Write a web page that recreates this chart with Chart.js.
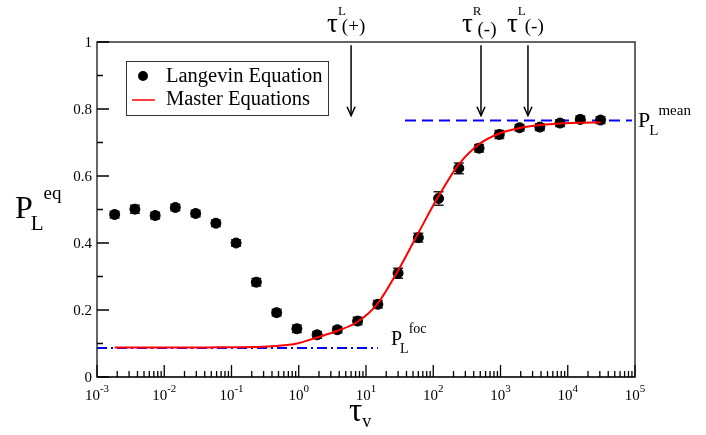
<!DOCTYPE html>
<html>
<head>
<meta charset="utf-8">
<script src="https://cdn.jsdelivr.net/npm/chart.js@4"></script>
<style>
  body { margin: 0; background: #fff; }
  #wrap { width: 706px; height: 435px; }
</style>
</head>
<body>
<div id="wrap"><canvas id="chart" width="706" height="435"></canvas></div>
<script>
// tau_v values (log scale)
const tau = [0.00183, 0.00366, 0.00732, 0.0146, 0.0293, 0.0586, 0.117, 0.234, 0.469, 0.938,
  1.875, 3.75, 7.5, 15, 30, 60, 120, 240, 480, 960, 1920, 3840, 7680, 15360, 30720];
// Langevin equation results and their error bars
const langevin = [0.485, 0.501, 0.482, 0.506, 0.488, 0.459, 0.400, 0.283, 0.192, 0.144,
  0.126, 0.141, 0.167, 0.217, 0.310, 0.416, 0.533, 0.623, 0.683, 0.724,
  0.744, 0.746, 0.758, 0.769, 0.767];
const langevinErr = [0.010, 0.012, 0.010, 0.010, 0.010, 0.010, 0.010, 0.011, 0.010, 0.011,
  0.010, 0.010, 0.011, 0.011, 0.015, 0.013, 0.020, 0.016, 0.011, 0.012,
  0.010, 0.010, 0.010, 0.010, 0.010];
// master equations curve
const master = [0.088, 0.088, 0.088, 0.088, 0.088, 0.0885, 0.089, 0.0895, 0.0925, 0.100,
  0.118, 0.138, 0.165, 0.220, 0.318, 0.430, 0.540, 0.635, 0.695, 0.727,
  0.743, 0.752, 0.757, 0.759, 0.760];
// reference levels
const meanX = [38, 90000];
const meanY = 0.766;
const focX = [0.001, 15];
const focY = 0.0865;
// arrows marking the times
const arrowX = [6, 513, 2560];
const yTicks = [0, 0.2, 0.4, 0.6, 0.8, 1];
const yTickLabels = ['0', '0.2', '0.4', '0.6', '0.8', '1'];
const xDecades = [-3, -2, -1, 0, 1, 2, 3, 4, 5];

const FONT = '"Liberation Serif", "Times New Roman", serif';

function pts(xs, ys) {
  return xs.map((x, i) => ({ x: x, y: ys[i] }));
}

function drawParts(ctx, x, y, parts) {
  parts.forEach(p => {
    ctx.font = p.size + 'px ' + FONT;
    ctx.fillText(p.text, x + (p.dx || 0), y + (p.dy || 0));
    x += ctx.measureText(p.text).width + (p.dx || 0);
  });
  return x;
}

function partsWidth(ctx, parts) {
  let w = 0;
  parts.forEach(p => {
    ctx.font = p.size + 'px ' + FONT;
    w += ctx.measureText(p.text).width + (p.dx || 0);
  });
  return w;
}

const decorations = {
  id: 'decorations',
  beforeDatasetsDraw(chart) {
    const ctx = chart.ctx, xs = chart.scales.x, ys = chart.scales.y;
    ctx.save();
    ctx.strokeStyle = '#222';
    ctx.lineWidth = 1.5;
    tau.forEach((t, i) => {
      const px = xs.getPixelForValue(t);
      const top = ys.getPixelForValue(langevin[i] + langevinErr[i]);
      const bot = ys.getPixelForValue(langevin[i] - langevinErr[i]);
      ctx.beginPath();
      ctx.moveTo(px, top); ctx.lineTo(px, bot);
      ctx.moveTo(px - 5, top); ctx.lineTo(px + 5, top);
      ctx.moveTo(px - 5, bot); ctx.lineTo(px + 5, bot);
      ctx.stroke();
    });
    ctx.restore();
  },
  afterDraw(chart) {
    const ctx = chart.ctx, xs = chart.scales.x, ys = chart.scales.y;
    const a = chart.chartArea;
    ctx.save();
    ctx.fillStyle = '#000';
    ctx.strokeStyle = '#333';

    // frame
    ctx.lineWidth = 1.5;
    ctx.strokeRect(a.left, a.top, a.right - a.left, a.bottom - a.top);
    ctx.lineWidth = 2;
    ctx.beginPath(); ctx.moveTo(a.left, a.bottom); ctx.lineTo(a.right, a.bottom); ctx.stroke();

    // ticks
    ctx.lineWidth = 1.3;
    ctx.strokeStyle = '#000';
    ctx.beginPath();
    for (let v = 0; v <= 10; v++) {
      const py = ys.getPixelForValue(v / 10);
      ctx.moveTo(a.left, py);
      ctx.lineTo(a.left + (v % 2 === 0 ? 12 : 6), py);
    }
    xDecades.forEach(d => {
      const base = Math.pow(10, d);
      const px = xs.getPixelForValue(base);
      ctx.moveTo(px, a.bottom); ctx.lineTo(px, a.bottom - 12);
      if (d < 5) {
        for (let m = 2; m <= 9; m++) {
          const pm = xs.getPixelForValue(base * m);
          ctx.moveTo(pm, a.bottom); ctx.lineTo(pm, a.bottom - 6);
        }
      }
    });
    ctx.stroke();

    // y tick labels
    ctx.font = '15px ' + FONT;
    ctx.textAlign = 'right';
    ctx.textBaseline = 'middle';
    yTicks.forEach((v, i) => {
      ctx.fillText(yTickLabels[i], a.left - 5, ys.getPixelForValue(v) + 1);
    });

    // x tick labels 10^n
    ctx.textAlign = 'left';
    ctx.textBaseline = 'alphabetic';
    xDecades.forEach(d => {
      const parts = [{ text: '10', size: 15 }, { text: String(d), size: 11, dy: -8 }];
      const w = partsWidth(ctx, parts);
      drawParts(ctx, xs.getPixelForValue(Math.pow(10, d)) - w / 2, 400, parts);
    });

    // axis titles
    drawParts(ctx, 15, 218, [{ text: 'P', size: 32 }, { text: 'L', size: 21, dy: 12, dx: -2 }, { text: 'eq', size: 19, dy: -19 }]);
    drawParts(ctx, 349, 421, [{ text: 'τ', size: 33 }, { text: 'v', size: 18, dy: 6 }]);

    // level labels
    drawParts(ctx, 638, 127, [{ text: 'P', size: 22 }, { text: 'L', size: 15, dy: 8, dx: -1 }, { text: 'mean', size: 15, dy: -12 }]);
    drawParts(ctx, 391, 345, [{ text: 'P', size: 20 }, { text: 'L', size: 14, dy: 8, dx: -2 }, { text: 'foc', size: 14, dy: -12 }]);

    // arrows
    ctx.strokeStyle = '#000';
    ctx.lineWidth = 1.5;
    arrowX.forEach(t => {
      const px = xs.getPixelForValue(t);
      const y0 = ys.getPixelForValue(0.99), y1 = ys.getPixelForValue(0.78);
      ctx.beginPath(); ctx.moveTo(px, y0); ctx.lineTo(px, y1 - 1); ctx.stroke();
      ctx.beginPath(); ctx.moveTo(px - 4, y1 - 9); ctx.lineTo(px, y1); ctx.lineTo(px + 4, y1 - 9); ctx.stroke();
    });
    const ax = arrowX.map(t => xs.getPixelForValue(t));
    drawParts(ctx, ax[0] - 24, 32, [{ text: 'τ', size: 27 }, { text: 'L', size: 13, dy: -17 }, { text: '(+)', size: 19, dx: -4 }]);
    drawParts(ctx, ax[1] - 19, 32, [{ text: 'τ', size: 27 }, { text: 'R', size: 13, dy: -17 }, { text: '(-)', size: 19, dx: -4, dy: 3 }]);
    drawParts(ctx, ax[2] - 21, 32, [{ text: 'τ', size: 27 }, { text: 'L', size: 13, dy: -17 }, { text: '(-)', size: 19, dx: -1 }]);

    // legend
    ctx.strokeStyle = '#333';
    ctx.lineWidth = 1;
    ctx.strokeRect(126.5, 61.5, 202, 54);
    ctx.beginPath(); ctx.arc(143, 76, 5, 0, Math.PI * 2); ctx.fill();
    ctx.strokeStyle = '#ff0000';
    ctx.lineWidth = 1.5;
    ctx.beginPath(); ctx.moveTo(132, 100); ctx.lineTo(155, 100); ctx.stroke();
    ctx.fillStyle = '#000';
    ctx.font = '20.5px ' + FONT;
    ctx.fillText('Langevin Equation', 166, 82);
    ctx.fillText('Master Equations', 166, 105);
    ctx.restore();
  }
};

new Chart(document.getElementById('chart'), {
  type: 'scatter',
  data: {
    datasets: [
      {
        label: 'Master Equations',
        data: pts(tau, master),
        showLine: true,
        borderColor: '#ff0000',
        borderWidth: 2,
        pointRadius: 0,
        cubicInterpolationMode: 'monotone',
        order: 0
      },
      {
        label: 'Langevin Equation',
        data: pts(tau, langevin),
        backgroundColor: '#000',
        borderColor: '#000',
        pointRadius: 5,
        order: 1
      },
      {
        label: 'mean',
        data: pts(meanX, [meanY, meanY]),
        showLine: true,
        borderColor: '#0000ff',
        borderWidth: 2,
        borderDash: [11, 6],
        pointRadius: 0,
        order: 2
      },
      {
        label: 'foc',
        data: pts(focX, [focY, focY]),
        showLine: true,
        borderColor: '#0000ff',
        borderWidth: 2,
        borderDash: [10, 4, 2, 4],
        pointRadius: 0,
        order: 2
      }
    ]
  },
  options: {
    responsive: false,
    animation: false,
    layout: { padding: { left: 97, right: 71, top: 42, bottom: 58 } },
    plugins: { legend: { display: false }, tooltip: { enabled: false } },
    scales: {
      x: { type: 'logarithmic', min: 0.001, max: 100000, display: false },
      y: { type: 'linear', min: 0, max: 1, display: false }
    }
  },
  plugins: [decorations]
});
</script>
</body>
</html>
